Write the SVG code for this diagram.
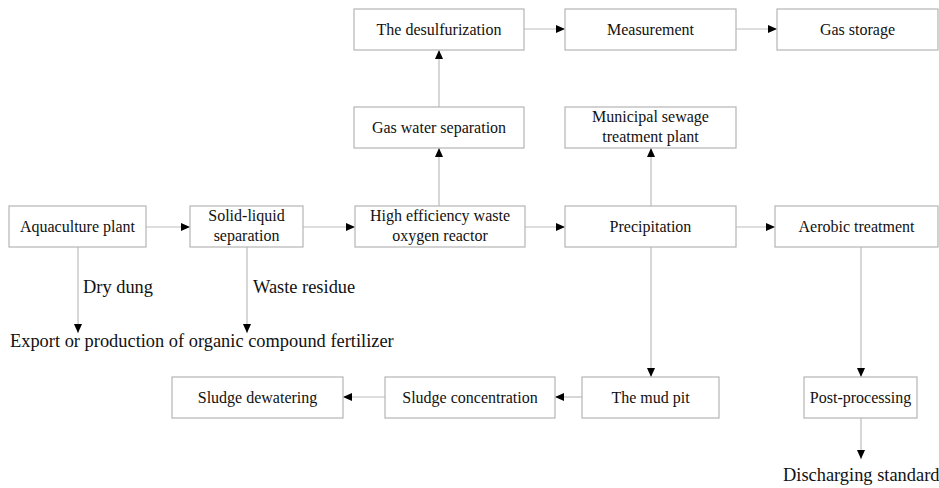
<svg xmlns="http://www.w3.org/2000/svg" width="939" height="488" viewBox="0 0 939 488">
<defs>
<marker id="ah" markerUnits="userSpaceOnUse" markerWidth="9" markerHeight="8" refX="9" refY="4" orient="auto">
<path d="M0,0 L9,4 L0,8 z" fill="#000"/>
</marker>
<style>
.box{fill:#fff;stroke:#b5b5b5;stroke-width:1.2}
.t{font-family:"Liberation Serif","Times New Roman",serif;font-size:16px;fill:#111;text-anchor:middle}
.l{font-family:"Liberation Serif","Times New Roman",serif;font-size:18.4px;fill:#111}
.c{fill:none;stroke:#bdbdbd;stroke-width:1.2;marker-end:url(#ah)}
</style>
</defs>
<rect width="939" height="488" fill="#fff"/>
<g id="connectors">
<path class="c" d="M146,227 H190"/>
<path class="c" d="M303,227 H355"/>
<path class="c" d="M525,227 H565"/>
<path class="c" d="M736,227 H775"/>
<path class="c" d="M439,206 V148"/>
<path class="c" d="M439,107 V50"/>
<path class="c" d="M524,29 H565"/>
<path class="c" d="M736,29 H777"/>
<path class="c" d="M651,206 V148"/>
<path class="c" d="M651,247 V377"/>
<path class="c" d="M582,397 H555"/>
<path class="c" d="M385,397 H343"/>
<path class="c" d="M861,247 V377"/>
<path class="c" d="M861,418 V459"/>
<path class="c" d="M78,247 V333"/>
<path class="c" d="M247,247 V333"/>
</g>
<g id="aquaculture"><rect class="box" x="9" y="206" width="137" height="41"/><text class="t" x="77.5" y="232">Aquaculture plant</text></g>
<g id="solid-liquid"><rect class="box" x="190" y="206" width="113" height="41"/><text class="t" x="246.5" y="221">Solid-liquid</text><text class="t" x="246.5" y="241">separation</text></g>
<g id="reactor"><rect class="box" x="355" y="206" width="170" height="41"/><text class="t" x="440" y="221">High efficiency waste</text><text class="t" x="440" y="241">oxygen reactor</text></g>
<g id="precipitation"><rect class="box" x="565" y="206" width="171" height="41"/><text class="t" x="650.5" y="232">Precipitation</text></g>
<g id="aerobic"><rect class="box" x="775" y="206" width="163" height="41"/><text class="t" x="856.5" y="232">Aerobic treatment</text></g>
<g id="desulfurization"><rect class="box" x="354" y="9" width="170" height="41"/><text class="t" x="439" y="35">The desulfurization</text></g>
<g id="measurement"><rect class="box" x="565" y="9" width="171" height="41"/><text class="t" x="650.5" y="35">Measurement</text></g>
<g id="gas-storage"><rect class="box" x="777" y="9" width="161" height="41"/><text class="t" x="857.5" y="35">Gas storage</text></g>
<g id="gas-water"><rect class="box" x="354" y="107" width="170" height="41"/><text class="t" x="439" y="133">Gas water separation</text></g>
<g id="municipal"><rect class="box" x="565" y="107" width="171" height="41"/><text class="t" x="650.5" y="122">Municipal sewage</text><text class="t" x="650.5" y="142">treatment plant</text></g>
<g id="sludge-dewatering"><rect class="box" x="172" y="377" width="171" height="41"/><text class="t" x="257.5" y="403">Sludge dewatering</text></g>
<g id="sludge-concentration"><rect class="box" x="385" y="377" width="170" height="41"/><text class="t" x="470" y="403">Sludge concentration</text></g>
<g id="mud-pit"><rect class="box" x="582" y="377" width="137" height="41"/><text class="t" x="650.5" y="403">The mud pit</text></g>
<g id="post-processing"><rect class="box" x="804" y="377" width="113" height="41"/><text class="t" x="860.5" y="403">Post-processing</text></g>
<g id="labels">
<text class="l" x="83" y="293">Dry dung</text>
<text class="l" x="253" y="293">Waste residue</text>
<text class="l" x="10" y="347">Export or production of organic compound fertilizer</text>
<text class="l" x="783" y="481">Discharging standard</text>
</g>
</svg>
